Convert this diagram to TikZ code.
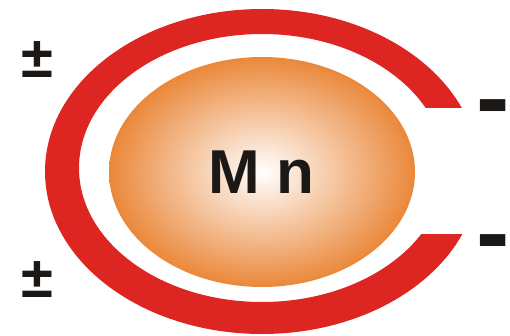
\documentclass[tikz,border=0pt]{standalone}
\usepackage{fontspec}
\setmainfont{Liberation Sans}
\definecolor{ringred}{RGB}{221,38,34}
\definecolor{mnorange}{RGB}{234,136,58}
\definecolor{signblack}{RGB}{28,24,22}
\tikzset{
  sign/.style={text=signblack, font=\bfseries\fontsize{58}{58}\selectfont, inner sep=0pt},
  dash sign/.style={text=signblack, font=\bfseries\fontsize{100}{100}\selectfont, inner sep=0pt, anchor=north east},
}
\begin{document}
\begin{tikzpicture}[x=1pt,y=1pt]
\useasboundingbox (0,0) rectangle (510,335);

% red ring, open on the right
\begin{scope}[even odd rule]
  \clip (0,0) rectangle (510,335) (420,101) rectangle (500,227);
  \fill[ringred] (262,163.5) ellipse [x radius=217, y radius=162.5]
     (262,167) ellipse [x radius=183, y radius=134];
\end{scope}

\shade[inner color=white, outer color=mnorange] (262,163) ellipse [x radius=153, y radius=115];

\node[text=signblack, font=\bfseries\fontsize{62}{62}\selectfont, inner sep=0pt, anchor=base] (Mn) at (261.5,142) {M n};

\node[sign] (pmtop) at (37.5,275) {±};
\node[sign] (pmbot) at (37.5,55.5) {±};

\node[dash sign] (mitop) at (510,236) {-};
\node[dash sign] (mibot) at (510,101) {-};
\end{tikzpicture}
\end{document}
